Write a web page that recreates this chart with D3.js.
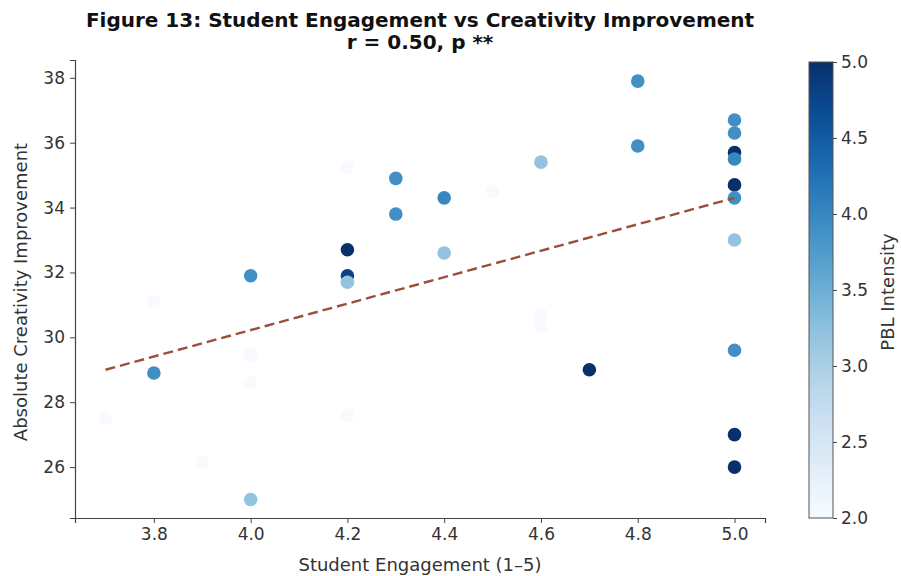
<!DOCTYPE html>
<html>
<head>
<meta charset="utf-8">
<script src="https://cdn.jsdelivr.net/npm/d3@7"></script>
<style>
  html, body { margin: 0; padding: 0; background: #fff; }
  svg { display: block; font-family: "DejaVu Sans", sans-serif; }
</style>
</head>
<body>
<svg id="chart" width="901" height="576"></svg>
<script>
// Student engagement (x), absolute creativity improvement (y), PBL intensity (colour)
const engagement = [
  3.7, 3.8, 3.8, 3.9, 4.0, 4.0, 4.0, 4.0, 4.0,
  4.2, 4.2, 4.2, 4.2, 4.2, 4.3, 4.3, 4.4, 4.4,
  4.5, 4.6, 4.6, 4.6, 4.7, 4.8, 4.8,
  5.0, 5.0, 5.0, 5.0, 5.0, 5.0, 5.0, 5.0, 5.0, 5.0
];
const creativity = [
  27.5, 31.1, 28.9, 26.15, 31.9, 29.45, 28.6, 25.0, 29.5,
  35.25, 27.6, 32.7, 31.9, 31.7, 34.9, 33.8, 34.3, 32.6,
  34.5, 35.4, 30.7, 30.35, 29.0, 37.9, 35.9,
  36.7, 36.3, 35.7, 35.5, 34.7, 34.3, 33.0, 29.6, 27.0, 26.0
];
const pblIntensity = [
  2.0, 2.0, 3.9, 2.0, 3.9, 2.0, 2.0, 3.2, 2.0,
  2.0, 2.0, 5.0, 4.8, 3.2, 3.9, 3.9, 4.0, 3.2,
  2.0, 3.2, 2.0, 2.0, 5.0, 3.9, 3.9,
  3.9, 3.9, 5.0, 4.0, 5.0, 3.9, 3.2, 3.9, 5.0, 5.0
];
// fitted trend line: engagement endpoints and predicted improvement
const fitEngagement = [3.7, 5.0];
const fitCreativity = [29.0, 34.3];

const xTicks = [3.8, 4.0, 4.2, 4.4, 4.6, 4.8, 5.0];
const yTicks = [26, 28, 30, 32, 34, 36, 38];
const cbTicks = [2.0, 2.5, 3.0, 3.5, 4.0, 4.5, 5.0];
const titleLines = ["Figure 13: Student Engagement vs Creativity Improvement", "r = 0.50, p **"];

const svg = d3.select("#chart");
const plot = { left: 75, right: 765, top: 60, bottom: 518 };

const x = d3.scaleLinear().domain([3.637, 5.063]).range([plot.left, plot.right]);
const y = d3.scaleLinear().domain([24.43, 38.55]).range([plot.bottom, plot.top]);
const color = d3.scaleSequential(d3.interpolateBlues).domain([2, 5]);

const points = engagement.map((e, i) => ({ e, c: creativity[i], p: pblIntensity[i] }));

// scatter markers
svg.append("g")
  .selectAll("circle")
  .data(points)
  .join("circle")
  .attr("cx", d => x(d.e))
  .attr("cy", d => y(d.c))
  .attr("r", 6.8)
  .attr("fill", d => color(d.p));

// trend line
svg.append("path")
  .datum(fitEngagement.map((e, i) => [e, fitCreativity[i]]))
  .attr("d", d3.line().x(d => x(d[0])).y(d => y(d[1])))
  .attr("fill", "none")
  .attr("stroke", "#9c4e3a")
  .attr("stroke-width", 2.4)
  .attr("stroke-dasharray", "10,5");

// axes
const xAxis = svg.append("g")
  .attr("transform", `translate(0,${plot.bottom})`)
  .call(d3.axisBottom(x).tickValues(xTicks).tickFormat(d3.format(".1f")).tickSizeOuter(0).tickSize(5).tickPadding(5));
const yAxis = svg.append("g")
  .attr("transform", `translate(${plot.left},0)`)
  .call(d3.axisLeft(y).tickValues(yTicks).tickFormat(d3.format("d")).tickSizeOuter(0).tickSize(5).tickPadding(5));
[xAxis, yAxis].forEach(g => {
  g.select(".domain").attr("stroke", "#444").attr("stroke-width", 1.2);
  g.selectAll(".tick line").attr("stroke", "#444").attr("stroke-width", 1);
  g.selectAll(".tick text").attr("fill", "#333").style("font-size", "17px").style("font-family", "DejaVu Sans");
});

// axis titles
svg.append("text")
  .attr("x", (plot.left + plot.right) / 2).attr("y", 571)
  .attr("text-anchor", "middle").attr("fill", "#333")
  .style("font-size", "18px")
  .text("Student Engagement (1–5)");
svg.append("text")
  .attr("transform", `translate(27,292) rotate(-90)`)
  .attr("text-anchor", "middle").attr("fill", "#333")
  .style("font-size", "18px")
  .text("Absolute Creativity Improvement");

// title
svg.append("g").selectAll("text")
  .data(titleLines)
  .join("text")
  .attr("x", (plot.left + plot.right) / 2)
  .attr("y", (d, i) => 27 + i * 22)
  .attr("text-anchor", "middle")
  .attr("fill", "#111")
  .style("font-size", "20px").style("font-weight", "bold")
  .text(d => d);

// colour bar
const cb = { x: 809, w: 24, top: 62, bottom: 518 };
const cbScale = d3.scaleLinear().domain([2, 5]).range([cb.bottom, cb.top]);
const defs = svg.append("defs");
const grad = defs.append("linearGradient").attr("id", "cbGrad")
  .attr("x1", "0").attr("y1", "1").attr("x2", "0").attr("y2", "0");
d3.range(0, 1.0001, 0.05).forEach(t => {
  grad.append("stop").attr("offset", t).attr("stop-color", d3.interpolateBlues(t));
});
svg.append("rect")
  .attr("x", cb.x).attr("y", cb.top)
  .attr("width", cb.w).attr("height", cb.bottom - cb.top)
  .attr("fill", "url(#cbGrad)")
  .attr("stroke", "#555").attr("stroke-width", 1);
const cbAxis = svg.append("g")
  .attr("transform", `translate(${cb.x + cb.w},0)`)
  .call(d3.axisRight(cbScale).tickValues(cbTicks).tickFormat(d3.format(".1f")).tickSize(4).tickPadding(4));
cbAxis.select(".domain").remove();
cbAxis.selectAll(".tick line").attr("stroke", "#444");
cbAxis.selectAll(".tick text").attr("fill", "#333").style("font-size", "17px").style("font-family", "DejaVu Sans");
svg.append("text")
  .attr("transform", `translate(894,292) rotate(-90)`)
  .attr("text-anchor", "middle").attr("fill", "#333")
  .style("font-size", "18px")
  .text("PBL Intensity");
</script>
</body>
</html>
